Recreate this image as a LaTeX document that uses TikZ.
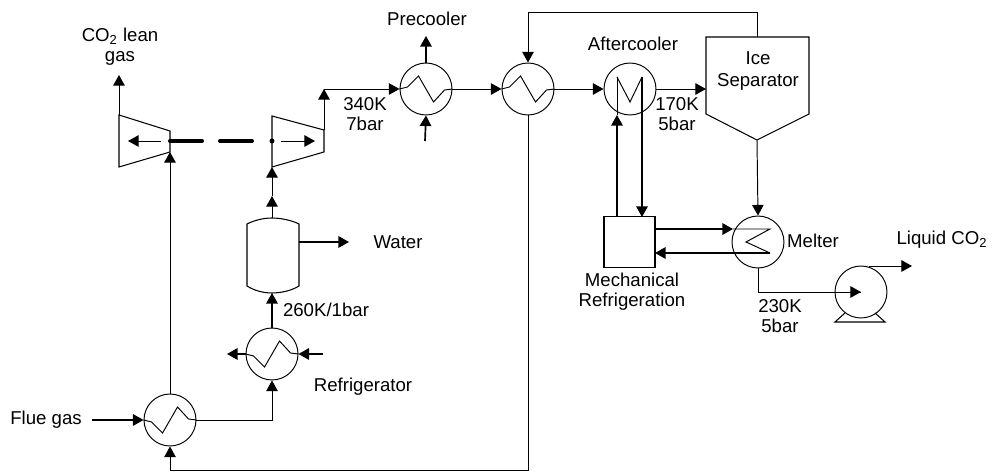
\documentclass[tikz,border=0pt]{standalone}
\usepackage{amsmath}
\usepackage{fontspec}
\setmainfont{Liberation Sans}
\usetikzlibrary{calc,arrows.meta}

\tikzset{
  every node/.style={font=\fontsize{10.6}{12.5}\selectfont,inner sep=0pt,align=center},
  hx/.style={draw,circle,minimum size=1.04cm,line width=0.55pt},
  flow/.style={line width=0.55pt,-{Triangle[length=6pt,width=6.5pt]}},
  heavy/.style={flow,line width=0.95pt},
  pipe/.style={line width=0.55pt},
  unit/.style={line width=0.6pt,line join=miter},
  shaft/.style={line width=2.3pt,line cap=round},
}

\begin{document}
\begin{tikzpicture}[x=0.02cm,y=-0.02cm]
        \useasboundingbox (0,0) rectangle (992,472);
        % heat exchangers
        \node [hx] (fin) at (170,420) {};
        \node [hx] (ref) at (272,354) {};
        \node [hx] (pre) at (426,89) {};
        \node [hx] (mid) at (528,89) {};
        \node [hx] (aft) at (630,89) {};
        \node [hx] (mel) at (758,242) {};
        \node [hx] (pmp) at (861,292) {};
        \foreach \n/\s in {pre/1,mid/1,fin/-1,ref/-1} {
          \draw [pipe] (\n.west) -- ++(8,-2*\s) -- ++(11,-11*\s) -- ++(15,26*\s) -- ++(11,-12*\s) -- (\n.east);
        }
        % boxes
        \node [draw,unit,minimum size=1.02cm] (mrf) at (629.5,242) {};
        \coordinate (sa) at (706,37);
        \coordinate (sb) at (809,37);
        \coordinate (sc) at (809,114);
        \coordinate (sd) at (757,140);
        \coordinate (se) at (706,114);
        \draw [unit] (sa) -- (sb) -- (sc) -- (sd) -- (se) -- cycle;
        \coordinate (dt) at (272,218);
        \coordinate (db) at (272,293);
        \coordinate (dl) at (299,242);
        \draw [unit] (247,224) .. controls (255,220) and (264,218) .. (dt) .. controls (280,218) and (291,220) .. (299,224)
          -- (299,286) .. controls (291,291) and (280,293) .. (db) .. controls (264,293) and (255,291) .. (247,286) -- cycle;
        % turbine and compressor
        \coordinate (ta) at (119,115);
        \coordinate (tb) at (170,131);
        \coordinate (tc) at (170,152);
        \coordinate (td) at (119,167);
        \coordinate (ca) at (272,116);
        \coordinate (cb) at (324,130);
        \coordinate (cc) at (324,152);
        \coordinate (cd) at (272,167);
        \draw [unit] (ta) -- (tb) -- (tc) -- (td) -- cycle;
        \draw [unit] (ca) -- (cb) -- (cc) -- (cd) -- cycle;
        \draw [shaft] (170,141) -- (202,141);
        \draw [shaft] (220,141) -- (252,141);
        \fill (272,141) circle (2.5);
        \draw [flow] (161,141) -- (128,141);
        \draw [flow] (281,141) -- (315,141);
        % free ends
        \coordinate (lean) at (119,75);
        \coordinate (flue) at (92,420);
        \coordinate (preup) at (426,36);
        \coordinate (prein) at (425,141);
        \coordinate (refin) at (323,354);
        \coordinate (refout) at (227,354);
        \coordinate (wat) at (349,242);
        \coordinate (liq) at (912,266);
        \coordinate (mix) at (272,196);
        \coordinate (bend) at (324,89);
        % process lines
        \draw [flow] (ta) -- (lean);
        \draw [heavy] (flue) -- (fin.west);
        \draw [flow] (fin.north) -- (tc);
        \draw [flow] (fin.east) -| (ref.south);
        \draw [heavy] (ref.north) -- (db);
        \draw [flow] (dt) -- (mix);
        \draw [flow] (mix) -- (cd);
        \draw [heavy] (refin) -- (ref.east);
        \draw [heavy] (ref.west) -- (refout);
        \draw [heavy] (dl) -- (wat);
        \draw [flow] (cb) -- (bend);
        \draw [flow] (bend) -- (pre.west);
        \draw [heavy] (pre.north) -- (preup);
        \draw [heavy] (prein) -- (pre.south);
        \draw [flow] (pre.east) -- (mid.west);
        \draw [flow] (mid.east) -- (aft.west);
        \draw [flow] (aft.east) -- (706,89);
        \draw [flow] (757,37) -- (757,12) -- (528,12) -- (mid.north);
        \draw [flow] (mid.south) -- (528,470) -- (170,470) -- (fin.south);
        % refrigeration loops
        \coordinate (al) at (617,77);
        \coordinate (am) at (630,102);
        \coordinate (ar) at (642,77);
        \draw [pipe] (al) -- (am) -- (ar);
        \draw [pipe] (617,115) -- (al);
        \draw [heavy] (617,217) -- (617,115);
        \draw [heavy] (ar) -- (642,217);
        \coordinate (mt) at (733,229);
        \coordinate (mr) at (770,229);
        \coordinate (mm) at (746,242);
        \coordinate (ms) at (770,253);
        \draw [heavy] (655,229) -- (mt);
        \draw [pipe] (mt) -- (mr) -- (mm) -- (ms);
        \draw [heavy] (ms) -- (655,253);
        \draw [flow] (sd) -- (mel.north);
        \draw [pipe] (mel.south) -- (758,292) -- (pmp.center);
        \draw [flow] (840,292) -- (pmp.center);
        \draw [flow] (869,266) -- (liq);
        \draw [unit] (845,313) -- (835,322) -- (885,322) -- (875,313);
        % labels
        \node (l1) at (120,47) {CO$_{\text{2}}$ lean\\[-1pt]gas};
        \node (l2) at (427,19) {Precooler};
        \node (l3) at (365,114) {340K\\[-1pt]7bar};
        \node (l4) at (633,44) {Aftercooler};
        \node (l5) at (758,71) {Ice\\[0pt]Separator};
        \node (l6) at (677,114) {170K\\[-1pt]5bar};
        \node (l7) at (398,242) {Water};
        \node (l8) at (326,310) {260K/1bar};
        \node (l9) at (363,387) {Refrigerator};
        \node (l10) at (46,420) {Flue gas};
        \node (l11) at (813,241) {Melter};
        \node (l12) at (942,240) {Liquid CO$_{\text{2}}$};
        \node (l13) at (632,292) {Mechanical\\[-1pt]Refrigeration};
        \node (l14) at (780,316) {230K\\[-1pt]5bar};
    \end{tikzpicture}
\end{document}
